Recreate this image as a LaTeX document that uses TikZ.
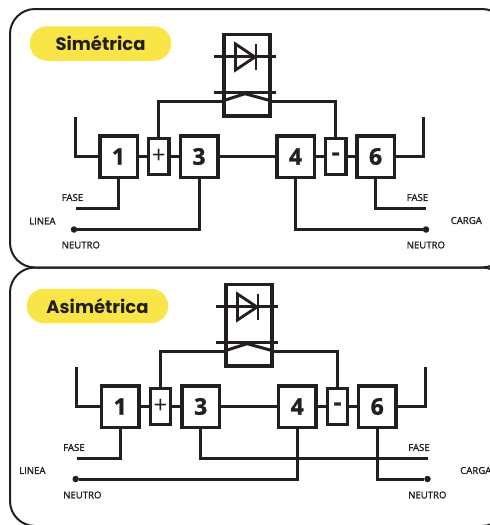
\documentclass[tikz,border=0pt]{standalone}
\usepackage{fontspec}
\setmainfont[BoldFeatures={FakeBold=1.2}]{Open Sans}
\newfontfamily\titlefont{Poppins}
\newfontfamily\tagfont[FakeBold=1.5]{Open Sans}
\usetikzlibrary{positioning, shapes.misc}
\definecolor{ink}{HTML}{231F20}
\definecolor{pill}{HTML}{F9E547}
\tikzset{%
	panel/.style={draw=ink, line width=2pt, rounded corners=25pt},
	badge/.style={rounded rectangle, fill=pill, minimum width=141.5pt, minimum height=34.5pt,%
		inner sep=0pt, text=ink, font=\titlefont\bfseries\fontsize{18}{18}\selectfont},
	term/.style={draw=ink, line width=3.5pt, minimum width=37.5pt, minimum height=41.5pt,%
		inner sep=0pt, fill=white, text=ink, font=\bfseries\fontsize{23}{23}\selectfont},
	pol/.style={draw=ink, line width=3.3pt, minimum width=20.2pt, minimum height=35.9pt,%
		inner sep=0pt, fill=white, text=ink, font=\fontsize{24}{24}\selectfont},
	relay/.style={draw=ink, line width=3.3pt, minimum width=46.1pt, minimum height=81.1pt, inner sep=0pt},
	wire/.style={draw=ink, line width=3pt},
	thin wire/.style={draw=ink, line width=2.9pt},
	tag/.style={text=ink, inner sep=0pt, font=\tagfont\fontsize{9.6}{9.6}\selectfont},
	dot/.style={circle, fill=ink, inner sep=0pt, minimum size=6.5pt}
}
\begin{document}
\begin{tikzpicture}[x=1pt, y=-1pt]
	\useasboundingbox (0,0) rectangle (490,525);

	% first panel
	\draw[panel] (10,9) rectangle (507,267.5);
	\node[badge] (sim) at (100.5,43.5) {Simétrica};

	\node[relay] (ra) at (247,75.3) {};
	\draw[thin wire] (214,56.7) -- (276,56.7);
	\draw[thin wire] (214,92.7) -- (276,92.7);
	\draw[thin wire] (235.5,44) -- (255,57) -- (235.5,70) -- cycle;
	\draw[thin wire] (256,43.5) -- (256,69.5);
	\coordinate (ral) at (ra.west |- 0,101);
	\coordinate (rar) at (ra.east |- 0,101);
	\draw[wire] (ral) -- (245,93.7) -- (rar);

	\node[term] (a1) at (118.5,156.5) {1};
	\node[pol, right=8pt of a1] (ap) {+};
	\node[term, right=8pt of ap] (a3) {3};
	\node[term, right=55.5pt of a3] (a4) {4};
	\node[pol, right=8pt of a4] (am) {\bfseries -};
	\node[term, right=7.5pt of am] (a6) {6};

	\coordinate (als) at (75,117);
	\coordinate (ars) at (423,117);
	\coordinate (alf) at (75.5,208.5);
	\coordinate (arf) at (426,208.5);
	\node[dot] (aln) at (74,229.5) {};
	\node[dot] (arn) at (426,229.5) {};

	\draw[wire] (als) |- (a1);
	\draw[wire] (ars) |- (a6);
	\draw[wire] (a1) -- (ap);
	\draw[wire] (ap) -- (a3);
	\draw[wire] (a3) -- (a4);
	\draw[wire] (a4) -- (am);
	\draw[wire] (am) -- (a6);
	\draw[wire] (ap.north) |- (ral);
	\draw[wire] (am.north) |- (rar);
	\draw[wire] (a1.south) |- (alf);
	\draw[wire] (a6.south) |- (arf);
	\draw[wire] (a3.south) |- (aln);
	\draw[wire] (a4.south) |- (arn);

	\node[tag, anchor=west] (af1) at (61.5,197.5) {FASE};
	\node[tag, anchor=west] (an1) at (61.5,245) {NEUTRO};
	\node[tag, anchor=west] (al) at (29,221) {LINEA};
	\node[tag, anchor=west] (af2) at (406.5,197.5) {FASE};
	\node[tag, anchor=west] (an2) at (406.5,245) {NEUTRO};
	\node[tag, anchor=west] (ac) at (450.5,220.5) {CARGA};

	% second panel
	\draw[panel] (10,267.5) rectangle (507,526);
	\node[badge] (asi) at (97.5,306) {Asimétrica};

	\node[relay] (rb) at (249,325.3) {};
	\draw[thin wire] (216,306.7) -- (278,306.7);
	\draw[thin wire] (216,342.7) -- (278,342.7);
	\draw[thin wire] (237.5,294) -- (257,307) -- (237.5,320) -- cycle;
	\draw[thin wire] (258,293.5) -- (258,319.5);
	\coordinate (rbl) at (rb.west |- 0,351);
	\coordinate (rbr) at (rb.east |- 0,351);
	\draw[wire] (rbl) -- (247,343.7) -- (rbr);

	\node[term] (b1) at (120.2,406.5) {1};
	\node[pol, right=8pt of b1] (bp) {+};
	\node[term, right=8pt of bp] (b3) {3};
	\node[term, right=55.5pt of b3] (b4) {4};
	\node[pol, right=8pt of b4] (bm) {\bfseries -};
	\node[term, right=7.5pt of bm] (b6) {6};

	\coordinate (bls) at (76.7,367);
	\coordinate (brs) at (425,367);
	\coordinate (blf) at (77,458);
	\coordinate (brf) at (427.5,458);
	\node[dot] (bln) at (75.7,479) {};
	\node[dot] (brn) at (427.5,479) {};

	\draw[wire] (bls) |- (b1);
	\draw[wire] (brs) |- (b6);
	\draw[wire] (b1) -- (bp);
	\draw[wire] (bp) -- (b3);
	\draw[wire] (b3) -- (b4);
	\draw[wire] (b4) -- (bm);
	\draw[wire] (bm) -- (b6);
	\draw[wire] (bp.north) |- (rbl);
	\draw[wire] (bm.north) |- (rbr);
	\draw[wire] (b1.south) |- (blf);
	\draw[wire] (b3.south) |- (brf);
	\draw[wire] (b4.south) |- (bln);
	\draw[wire] (b6.south) |- (brn);

	\node[tag, anchor=west] (bf1) at (63,447.5) {FASE};
	\node[tag, anchor=west] (bn1) at (63,495) {NEUTRO};
	\node[tag, anchor=west] (bl) at (19,470.5) {LINEA};
	\node[tag, anchor=west] (bf2) at (408,447.5) {FASE};
	\node[tag, anchor=west] (bn2) at (408,495) {NEUTRO};
	\node[tag, anchor=west] (bc) at (460,470.5) {CARGA};
\end{tikzpicture}
\end{document}
